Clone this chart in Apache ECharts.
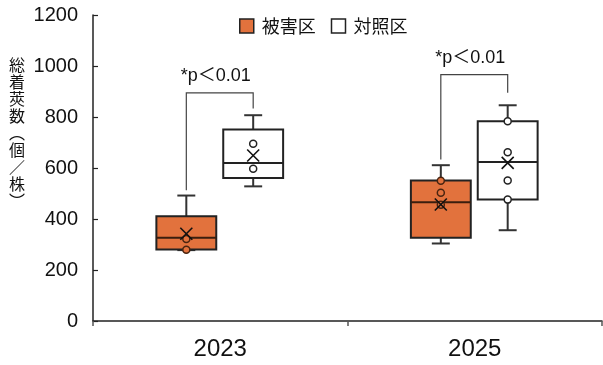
<!DOCTYPE html>
<html>
<head>
<meta charset="utf-8">
<script src="https://cdn.jsdelivr.net/npm/echarts@6/dist/echarts.min.js"></script>
<style>
html,body{margin:0;padding:0;background:#fff;}
#chart{width:603px;height:365px;}
</style>
</head>
<body>
<div id="chart"></div>
<script>
// ---- data ----
const categories = ['2023', '2025'];
const seriesNames = ['被害区', '対照区'];
// [min, Q1, median, Q3, max]
const damagedBox = [[278, 280, 326, 411, 492], [304, 326, 466, 551, 611]];
const controlBox = [[528, 561, 620, 751, 807], [356, 476, 624, 783, 846]];
const damagedMean = [342, 457];
const controlMean = [649, 620];
const damagedPoints = [[322, 279], [550, 503, 456]];
const controlPoints = [[695, 597], [783, 662, 551, 476]];
const sigLabels = ['*p＜0.01', '*p＜0.01'];
const bracketTop = [895, 966];
const bracketLeftEnd = [513, 633];
const bracketRightEnd = [833, 895];
const yTicks = { min: 0, max: 1200, interval: 200 };
const yAxisTitle = '総着莢数（個／株）';

// ---- styles ----
const ORANGE = '#E2723D';
const INK = '#222';
const OFFSETS = [-34 / 255, 33 / 255];
const BOX_W = 60 / 255;
const CAP_W = 18 / 255;

function boxRenderer(offsetFrac, fill, pointFill, pointStroke, medianColor, pointsArr, meanArr) {
  return function (params, api) {
    const cat = api.value(0);
    const band = api.size([1, 0])[0];
    const base = api.coord([cat, 0]);
    const cx = base[0] + offsetFrac * band;
    const hw = BOX_W * band / 2;
    const cw = CAP_W * band / 2;
    const y = (v) => api.coord([cat, v])[1];
    const yMin = y(api.value(1)), yQ1 = y(api.value(2)), yMed = y(api.value(3)),
          yQ3 = y(api.value(4)), yMax = y(api.value(5));
    const line = (x1, y1, x2, y2, stroke, w) => ({
      type: 'line', shape: { x1, y1, x2, y2 },
      style: { stroke: stroke, lineWidth: w }
    });
    const children = [];
    children.push(line(cx, yQ3, cx, yMax, '#333', 2));
    children.push(line(cx - cw, yMax, cx + cw, yMax, '#333', 2));
    children.push(line(cx, yQ1, cx, yMin, '#333', 2));
    children.push(line(cx - cw, yMin, cx + cw, yMin, '#333', 2));
    children.push({
      type: 'rect', shape: { x: cx - hw, y: yQ3, width: hw * 2, height: yQ1 - yQ3 },
      style: { fill: fill, stroke: INK, lineWidth: 2 }
    });
    children.push(line(cx - hw, yMed, cx + hw, yMed, medianColor, 2));
    const pts = pointsArr[params.dataIndex] || [];
    pts.forEach(function (v) {
      children.push({
        type: 'circle', shape: { cx: cx, cy: y(v), r: 3.5 },
        style: { fill: pointFill, stroke: pointStroke, lineWidth: 1.5 }
      });
    });
    const ym = y(meanArr[params.dataIndex]);
    const s = 6;
    children.push(line(cx - s, ym - s, cx + s, ym + s, '#111', 1.6));
    children.push(line(cx - s, ym + s, cx + s, ym - s, '#111', 1.6));
    return { type: 'group', children: children };
  };
}

function sigRenderer(params, api) {
  const cat = api.value(0);
  const band = api.size([1, 0])[0];
  const base = api.coord([cat, 0]);
  const xl = base[0] + OFFSETS[0] * band;
  const xr = base[0] + OFFSETS[1] * band;
  const y = (v) => api.coord([cat, v])[1];
  const yt = y(api.value(1)), yl = y(api.value(2)), yr = y(api.value(3));
  return {
    type: 'group',
    children: [
      { type: 'polyline', shape: { points: [[xl, yl], [xl, yt], [xr, yt], [xr, yr]] },
        style: { stroke: '#444', lineWidth: 1.2, fill: null } },
      { type: 'text', x: (xl + xr) / 2 - 4, y: yt - 17,
        style: { text: sigLabels[params.dataIndex], fill: '#111',
          font: '18px "Liberation Sans", "Noto Sans CJK JP", sans-serif',
          align: 'center', verticalAlign: 'middle' } }
    ]
  };
}

const toItems = (arr) => arr.map((d, i) => [i].concat(d));

const chart = echarts.init(document.getElementById('chart'), null, { renderer: 'canvas' });
chart.setOption({
  animation: false,
  backgroundColor: '#fff',
  grid: { left: 93, right: 1, top: 15, bottom: 44, containLabel: false },
  legend: {
    left: 239, top: 17, padding: 0,
    itemWidth: 14, itemHeight: 14, itemGap: 15,
    textStyle: { fontSize: 18, color: '#111', fontFamily: '"Noto Sans CJK JP", sans-serif', padding: [0, 0, 0, 3] },
    data: [
      { name: seriesNames[0], icon: 'rect', itemStyle: { color: ORANGE, borderColor: INK, borderWidth: 1.5 } },
      { name: seriesNames[1], icon: 'rect', itemStyle: { color: '#fff', borderColor: INK, borderWidth: 1.5 } }
    ]
  },
  xAxis: {
    type: 'category', data: categories, boundaryGap: true,
    axisLine: { lineStyle: { color: INK, width: 1.5 } },
    axisTick: { show: true, length: 5, lineStyle: { color: '#555', width: 1.5 } },
    axisLabel: { fontSize: 24, color: '#111', margin: 16,
      fontFamily: '"Liberation Sans", sans-serif' },
    splitLine: { show: false }
  },
  yAxis: {
    type: 'value', min: yTicks.min, max: yTicks.max, interval: yTicks.interval,
    axisLine: { show: true, lineStyle: { color: INK, width: 1.5 } },
    axisTick: { show: true, inside: true, length: 5, lineStyle: { color: INK, width: 1.2 } },
    axisLabel: { fontSize: 20, color: '#111', margin: 15,
      fontFamily: '"Liberation Sans", sans-serif',
      formatter: (v) => String(v) },
    splitLine: { show: false }
  },
  graphic: [{
    type: 'text', x: 17, y: 133,
    style: { text: yAxisTitle.split('').map(c => c === '（' ? '︵' : c === '）' ? '︶' : c).join('\n'),
      font: '16px "Noto Sans CJK JP", sans-serif', lineHeight: 17, fill: '#111',
      align: 'center', verticalAlign: 'middle' }
  }],
  series: [
    {
      name: seriesNames[0], type: 'custom', color: ORANGE,
      renderItem: boxRenderer(OFFSETS[0], ORANGE, ORANGE, '#4a2410', '#3a1e0e', damagedPoints, damagedMean),
      encode: { x: 0, y: [1, 2, 3, 4, 5] },
      data: toItems(damagedBox), z: 3
    },
    {
      name: seriesNames[1], type: 'custom', color: '#fff',
      renderItem: boxRenderer(OFFSETS[1], '#fff', '#fff', '#222', '#222', controlPoints, controlMean),
      encode: { x: 0, y: [1, 2, 3, 4, 5] },
      data: toItems(controlBox), z: 3
    },
    {
      name: 'sig', type: 'custom', renderItem: sigRenderer,
      encode: { x: 0, y: [1, 2, 3] },
      data: categories.map((c, i) => [i, bracketTop[i], bracketLeftEnd[i], bracketRightEnd[i]]),
      z: 2
    }
  ]
});
</script>
</body>
</html>
